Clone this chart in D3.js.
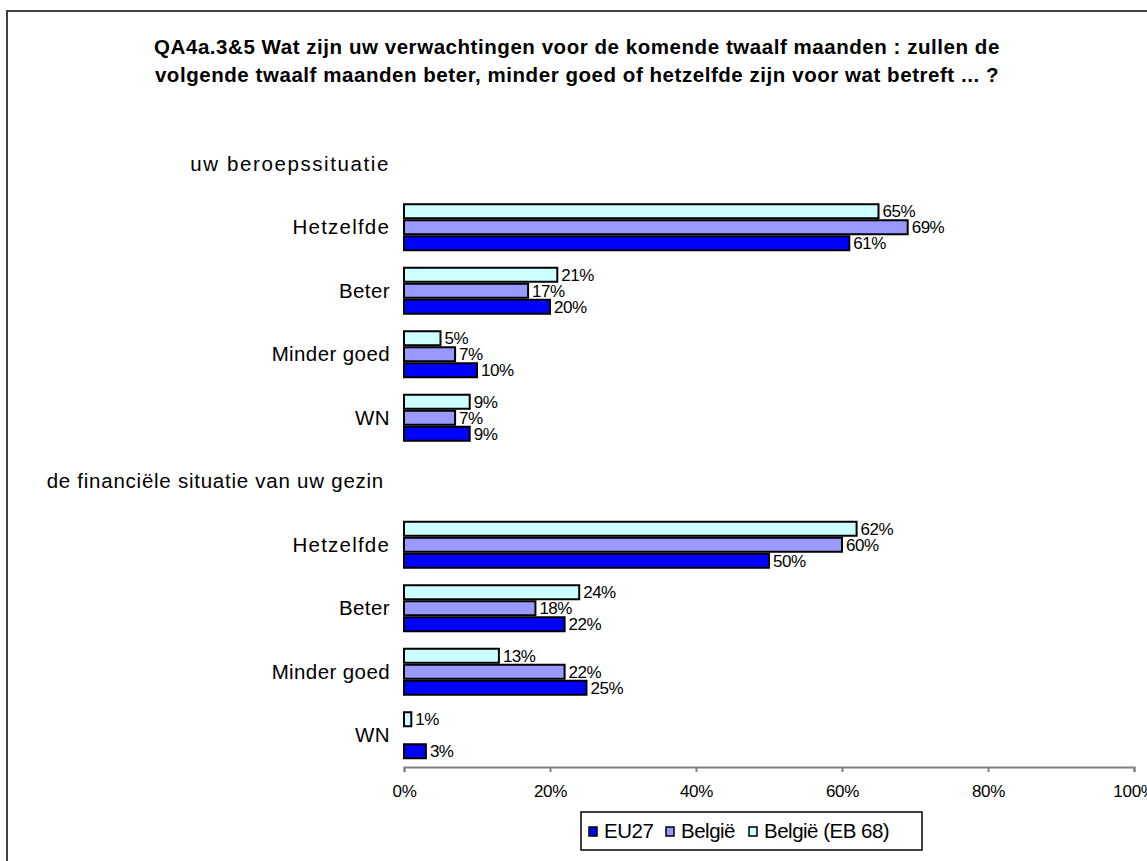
<!DOCTYPE html>
<html>
<head>
<meta charset="utf-8">
<script src="https://cdn.jsdelivr.net/npm/d3@7"></script>
<style>
  html, body { margin: 0; padding: 0; background: #fff; }
  svg { display: block; }
  text { font-family: Arial, "Liberation Sans", sans-serif; fill: #000; }
</style>
</head>
<body>
<svg id="chart" width="1147" height="861"></svg>
<script>
// ---- Data ----
const titleLines = [
  "QA4a.3&5 Wat zijn uw verwachtingen voor de komende twaalf maanden : zullen de",
  "volgende twaalf maanden beter, minder goed of hetzelfde zijn voor wat betreft ... ?"
];
const sections = ["uw beroepssituatie", "de financiële situatie van uw gezin"];
const answers = ["Hetzelfde", "Beter", "Minder goed", "WN"];
const seriesNames = ["EU27", "België", "België (EB 68)"];
const seriesColors = ["#0000FF", "#9999FF", "#CCFFFF"];
// values per section, in order of answers
const eu27   = [[61, 20, 10, 9], [50, 22, 25, 3]];
const belgie = [[69, 17, 7, 7],  [60, 18, 22, null]];
const eb68   = [[65, 21, 5, 9],  [62, 24, 13, 1]];
const tickValues = [0, 0.2, 0.4, 0.6, 0.8, 1.0];

// label styling (letter spacing mimics the original rendering)
const labelSpacing = { "s0": 1.6, "s1": 0.75, "Hetzelfde": 1.2 };

// ---- Build rows ----
const rows = [];
sections.forEach((s, si) => {
  rows.push({ id: "s" + si, label: s, section: true });
  answers.forEach((a, ai) => {
    rows.push({ id: "s" + si + "a" + ai, label: a, section: false,
      values: [eu27[si][ai], belgie[si][ai], eb68[si][ai]] });
  });
});

const svg = d3.select("#chart");

// frame
svg.append("rect")
  .attr("x", 7).attr("y", 11).attr("width", 1160).attr("height", 880)
  .attr("fill", "none").attr("stroke", "#404040").attr("stroke-width", 2);

// title
svg.append("g").selectAll("text").data(titleLines).join("text")
  .attr("x", 577).attr("y", (d, i) => 54 + i * 28)
  .attr("text-anchor", "middle")
  .style("font-weight", "bold").style("font-size", "20.5px")
  .style("letter-spacing", "0.55px")
  .text(d => d);

// scales
const x = d3.scaleLinear().domain([0, 1]).range([404, 1134]);
const y = d3.scaleBand().domain(rows.map(r => r.id)).range([132, 767]).paddingInner(0).paddingOuter(0);
const inner = d3.scaleBand().domain(["2", "1", "0"]).range([-24, 24]);

// category labels
svg.append("g").selectAll("text").data(rows).join("text")
  .attr("x", d => d.section ? (d.id === "s0" ? 390 : 384) : 390)
  .attr("y", d => y(d.id) + y.bandwidth() / 2)
  .attr("dy", "0.35em")
  .attr("text-anchor", "end")
  .style("font-size", "20.5px")
  .style("letter-spacing", d => {
    const k = d.section ? d.id : d.label;
    return (labelSpacing[k] !== undefined ? labelSpacing[k] : 0.4) + "px";
  })
  .text(d => d.label);

// bars
const barRows = rows.filter(r => !r.section);
const barData = [];
barRows.forEach(r => {
  r.values.forEach((v, si) => {
    if (v !== null && v !== undefined) barData.push({ row: r.id, s: si, v: v });
  });
});

const barH = 14;
const gBars = svg.append("g");
gBars.selectAll("rect").data(barData).join("rect")
  .attr("x", x(0))
  .attr("y", d => y(d.row) + y.bandwidth() / 2 + inner(String(d.s)) + (inner.bandwidth() - barH) / 2)
  .attr("width", d => x(d.v / 100) - x(0))
  .attr("height", barH)
  .attr("fill", d => seriesColors[d.s])
  .attr("stroke", "#000").attr("stroke-width", 2);

gBars.selectAll("text").data(barData).join("text")
  .attr("x", d => x(d.v / 100) + 4)
  .attr("y", d => y(d.row) + y.bandwidth() / 2 + inner(String(d.s)) + inner.bandwidth() / 2)
  .attr("dy", "0.35em")
  .style("font-size", "17px")
  .style("letter-spacing", "-0.5px")
  .text(d => d.v + "%");

// x axis
const axis = d3.axisBottom(x).tickValues(tickValues).tickFormat(d3.format(".0%")).tickSize(5).tickPadding(13);
const gAxis = svg.append("g").attr("transform", "translate(0,767)").call(axis);
gAxis.select(".domain").attr("stroke", "#808080").attr("stroke-width", 2);
gAxis.selectAll(".tick line").attr("stroke", "#808080").attr("stroke-width", 2);
gAxis.selectAll(".tick text").style("font-size", "17px").style("letter-spacing", "-0.3px")
  .style("font-family", "Arial, 'Liberation Sans', sans-serif").attr("fill", "#000");

// legend
const legend = svg.append("g");
legend.append("rect").attr("x", 581).attr("y", 812).attr("width", 341).attr("height", 38)
  .attr("fill", "#fff").attr("stroke", "#000").attr("stroke-width", 1.5);
const legendX = [589, 666, 749];
const items = legend.selectAll("g.item").data(seriesNames).join("g").attr("class", "item")
  .attr("transform", (d, i) => `translate(${legendX[i]},831)`);
items.append("rect").attr("x", 0).attr("y", -4).attr("width", 8).attr("height", 9)
  .attr("fill", (d, i) => seriesColors[i]).attr("stroke", "#000").attr("stroke-width", 1.5);
items.append("text").attr("x", 15).attr("y", 0).attr("dy", "0.35em")
  .style("font-size", "20.5px").style("letter-spacing", "-0.5px").text(d => d);
</script>
</body>
</html>
